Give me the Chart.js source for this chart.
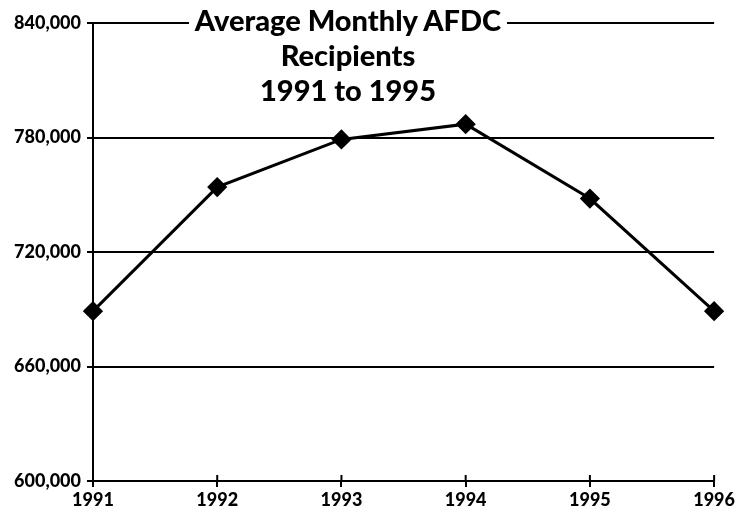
<!DOCTYPE html>
<html>
<head>
<meta charset="utf-8">
<script src="https://cdn.jsdelivr.net/npm/chart.js@4"></script>
<style>
  body { margin: 0; background: #fff; }
  #wrap { position: relative; width: 737px; height: 525px; }
  #title {
    position: absolute; left: 98px; width: 500px; top: 2px;
    text-align: center; font-family: Lato, sans-serif; font-weight: 900;
    font-size: 29px; line-height: 35px; color: #000;
  }
  #title span { background: #fff; padding: 0 6px; }
</style>
</head>
<body>
<div id="wrap">
  <canvas id="afdc"></canvas>
  <div id="title"><span>Average Monthly AFDC</span><br>Recipients<br>1991 to 1995</div>
</div>
<script>
const years = ["1991", "1992", "1993", "1994", "1995", "1996"];
const recipients = [689000, 754000, 779000, 787000, 748000, 689000];
const yTicks = [600000, 660000, 720000, 780000, 840000];

// tick marks that cross the x axis
const crossTicks = {
  id: "crossTicks",
  afterDraw(chart) {
    const { ctx, scales } = chart;
    const x = scales.x;
    const y0 = scales.y.getPixelForValue(yTicks[0]);
    ctx.save();
    ctx.strokeStyle = "#000";
    ctx.lineWidth = 2;
    x.ticks.forEach((t, i) => {
      const px = x.getPixelForTick(i);
      ctx.beginPath();
      ctx.moveTo(px, y0 - 6);
      ctx.lineTo(px, y0);
      ctx.stroke();
    });
    ctx.restore();
  }
};

new Chart(document.getElementById("afdc"), {
  type: "line",
  data: {
    labels: years,
    datasets: [
      {
        label: "Average Monthly AFDC Recipients",
        data: recipients,
        borderColor: "#000",
        backgroundColor: "#000",
        borderWidth: 3,
        pointStyle: "rectRot",
        pointRadius: 8,
        pointHoverRadius: 8,
        fill: false,
        tension: 0,
      },
    ],
  },
  options: {
    responsive: true,
    maintainAspectRatio: false,
    animation: false,
    layout: { padding: { top: 23, right: 19, bottom: 0, left: 0 } },
    plugins: { legend: { display: false }, tooltip: { enabled: false } },
    scales: {
      x: {
        offset: false,
        afterFit: (s) => { s.height = 44; },
        border: { color: "#000", width: 2 },
        grid: { drawOnChartArea: false, color: "#000", lineWidth: 2, tickLength: 6 },
        ticks: {
          color: "#000",
          padding: 2,
          maxRotation: 0,
          font: { family: "Lato", weight: "900", size: 18 },
        },
      },
      y: {
        min: 600000,
        max: 840000,
        afterFit: (s) => { s.width = 93; },
        afterBuildTicks: (s) => { s.ticks = yTicks.map((v) => ({ value: v })); },
        border: { color: "#000", width: 2 },
        grid: { color: "#000", lineWidth: 2, tickLength: 6 },
        ticks: {
          color: "#000",
          padding: 6,
          font: { family: "Lato", weight: "900", size: 18 },
          callback: (v) => v.toLocaleString("en-US"),
        },
      },
    },
  },
  plugins: [crossTicks],
});
</script>
</body>
</html>
